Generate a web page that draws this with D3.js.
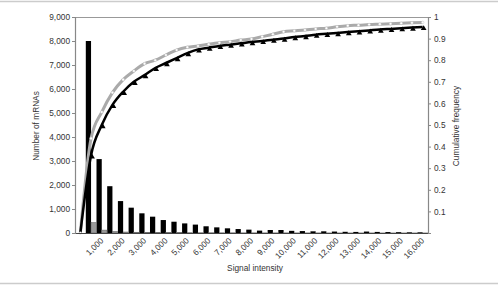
<!DOCTYPE html>
<html>
<head>
<meta charset="UTF-8">
<title>Signal intensity distribution</title>
<script src="https://d3js.org/d3.v7.min.js"></script>
<style>
    body { margin: 0; background: #fff; }
    svg { display: block; font-family: "Liberation Sans", Arial, sans-serif; }
</style>
</head>
<body>
<svg width="498" height="285"></svg>
<script>
    // signal bins (0 to 16,000 in steps of 500)
    var bins = d3.range(0, 16001, 500);
    // number of mRNAs per bin, black and grey series
    var countsBlack = [0, 8000, 3080, 1950, 1330, 1055, 820, 680, 540, 470, 400,
        350, 280, 235, 195, 165, 140, 100, 125, 125, 90, 80, 70, 70, 60, 50,
        45, 60, 45, 40, 35, 30, 30];
    var countsGrey = [0, 430, 120, 60, 40, 30, 25, 20, 15, 15, 12,
        10, 10, 8, 8, 6, 6, 5, 5, 5, 4, 4, 4, 3, 3, 3, 3, 3, 2, 2, 2, 2, 2];
    // cumulative frequency curves
    var cumBlack = [0, 0.36, 0.50, 0.593, 0.654, 0.70, 0.731, 0.764, 0.787, 0.81, 0.833,
        0.85, 0.858, 0.866, 0.872, 0.878, 0.884, 0.889, 0.895, 0.90, 0.907, 0.912,
        0.918, 0.922, 0.926, 0.93, 0.934, 0.938, 0.942, 0.945, 0.948, 0.951, 0.954];
    var cumGrey = [0, 0.438, 0.56, 0.65, 0.71, 0.75, 0.784, 0.80, 0.824, 0.847, 0.86,
        0.866, 0.874, 0.881, 0.886, 0.893, 0.898, 0.909, 0.92, 0.932, 0.936, 0.94,
        0.945, 0.948, 0.955, 0.96, 0.962, 0.965, 0.967, 0.969, 0.971, 0.973, 0.975];
    var leftTicks = d3.range(0, 9001, 1000);
    var rightTicks = d3.range(1, 11).map(function(d) { return d / 10; });

    var svg = d3.select("svg");
    var W = +svg.attr("width"), H = +svg.attr("height");
    var m = { top: 17, right: 70, bottom: 52, left: 75 };
    var innerBottom = H - m.bottom;

    // frame lines top and bottom of the figure
    svg.append("line").attr("x1", 0).attr("x2", W).attr("y1", 1.5).attr("y2", 1.5)
        .attr("stroke", "#ccc").attr("stroke-width", 1.5);
    svg.append("line").attr("x1", 0).attr("x2", W).attr("y1", 283.5).attr("y2", 283.5)
        .attr("stroke", "#ccc").attr("stroke-width", 1.5);

    var x = d3.scaleBand().domain(bins).range([m.left, W - m.right]).padding(0);
    var xSub = d3.scaleBand().domain(["black", "grey"]).range([0, x.bandwidth()]).paddingOuter(0.02);
    var yL = d3.scaleLinear().domain([0, 9000]).range([innerBottom, m.top]);
    var yR = d3.scaleLinear().domain([0, 1]).range([innerBottom, m.top]);
    var cx = function(i) { return x(bins[i]) + x.bandwidth() / 2; };

    // plot frame top
    svg.append("line").attr("x1", m.left).attr("x2", W - m.right)
        .attr("y1", m.top + 0.5).attr("y2", m.top + 0.5).attr("stroke", "#999");

    // bars
    svg.append("g").selectAll("rect.b").data(countsBlack).enter().append("rect")
        .attr("x", function(d, i) { return x(bins[i]) + xSub("black"); })
        .attr("width", xSub.bandwidth())
        .attr("y", function(d) { return yL(d); })
        .attr("height", function(d) { return innerBottom - yL(d); })
        .attr("fill", "#000");
    svg.append("g").selectAll("rect.g").data(countsGrey).enter().append("rect")
        .attr("x", function(d, i) { return x(bins[i]) + xSub("grey"); })
        .attr("width", xSub.bandwidth())
        .attr("y", function(d) { return yL(d); })
        .attr("height", function(d) { return innerBottom - yL(d); })
        .attr("fill", "#999").attr("stroke", "#666").attr("stroke-width", 0.6);

    // cumulative lines
    var line = d3.line().x(function(d, i) { return cx(i); }).y(function(d) { return yR(d); })
        .curve(d3.curveMonotoneX);
    svg.append("path").datum(cumGrey).attr("d", line)
        .attr("fill", "none").attr("stroke", "#aaa").attr("stroke-width", 3);
    svg.append("path").datum(cumBlack).attr("d", line)
        .attr("fill", "none").attr("stroke", "#000").attr("stroke-width", 2.5);

    svg.append("g").selectAll("path").data(cumBlack.slice(1)).enter().append("path")
        .attr("d", d3.symbol().type(d3.symbolTriangle).size(14))
        .attr("transform", function(d, i) { return "translate(" + (cx(i + 1) + 1) + "," + (yR(d) + 1.5) + ")"; })
        .attr("fill", "#000");
    svg.append("g").selectAll("circle").data(cumGrey).enter().append("circle")
        .attr("cx", function(d, i) { return cx(i); })
        .attr("cy", function(d) { return yR(d); })
        .attr("r", 1.3)
        .attr("fill", "#fff").attr("stroke", "#bbb").attr("stroke-width", 0.4);

    // axes
    var fmt = d3.format(",");
    var gx = svg.append("g").attr("transform", "translate(0," + innerBottom + ")")
        .call(d3.axisBottom(x).tickValues(bins.filter(function(d) { return d > 0 && d % 1000 === 0; }))
            .tickSize(0).tickFormat(fmt));
    gx.selectAll("text").attr("text-anchor", "end")
        .attr("transform", "translate(-4,2) rotate(-45)")
        .attr("dx", 0).attr("dy", "0.7em");

    var gl = svg.append("g").attr("transform", "translate(" + m.left + ",0)")
        .call(d3.axisLeft(yL).tickValues(leftTicks).tickSize(3).tickPadding(2).tickFormat(fmt));
    var gr = svg.append("g").attr("transform", "translate(" + (W - m.right) + ",0)")
        .call(d3.axisRight(yR).tickValues(rightTicks).tickSize(3).tickPadding(3)
            .tickFormat(function(d) { return d === 1 ? "1" : d.toFixed(1); }));

    [gx, gl, gr].forEach(function(g) {
        g.selectAll("text").attr("font-size", 8.3).attr("fill", "#333").attr("font-family", "Liberation Sans, Arial, sans-serif");
        g.selectAll("line").attr("stroke", "#888");
        g.select(".domain").attr("stroke", "#888").attr("stroke-width", 1.2);
    });
    gx.select(".domain").attr("stroke", "#444");

    // axis titles
    svg.append("text").attr("x", 255).attr("y", 271).attr("text-anchor", "middle")
        .attr("font-size", 8.3).attr("fill", "#333").text("Signal intensity");
    svg.append("text").attr("transform", "translate(39,126) rotate(-90)").attr("text-anchor", "middle")
        .attr("font-size", 8.3).attr("fill", "#333").text("Number of mRNAs");
    svg.append("text").attr("transform", "translate(459,126) rotate(-90)").attr("text-anchor", "middle")
        .attr("font-size", 8.3).attr("fill", "#333").text("Cumulative frequency");
</script>
</body>
</html>
